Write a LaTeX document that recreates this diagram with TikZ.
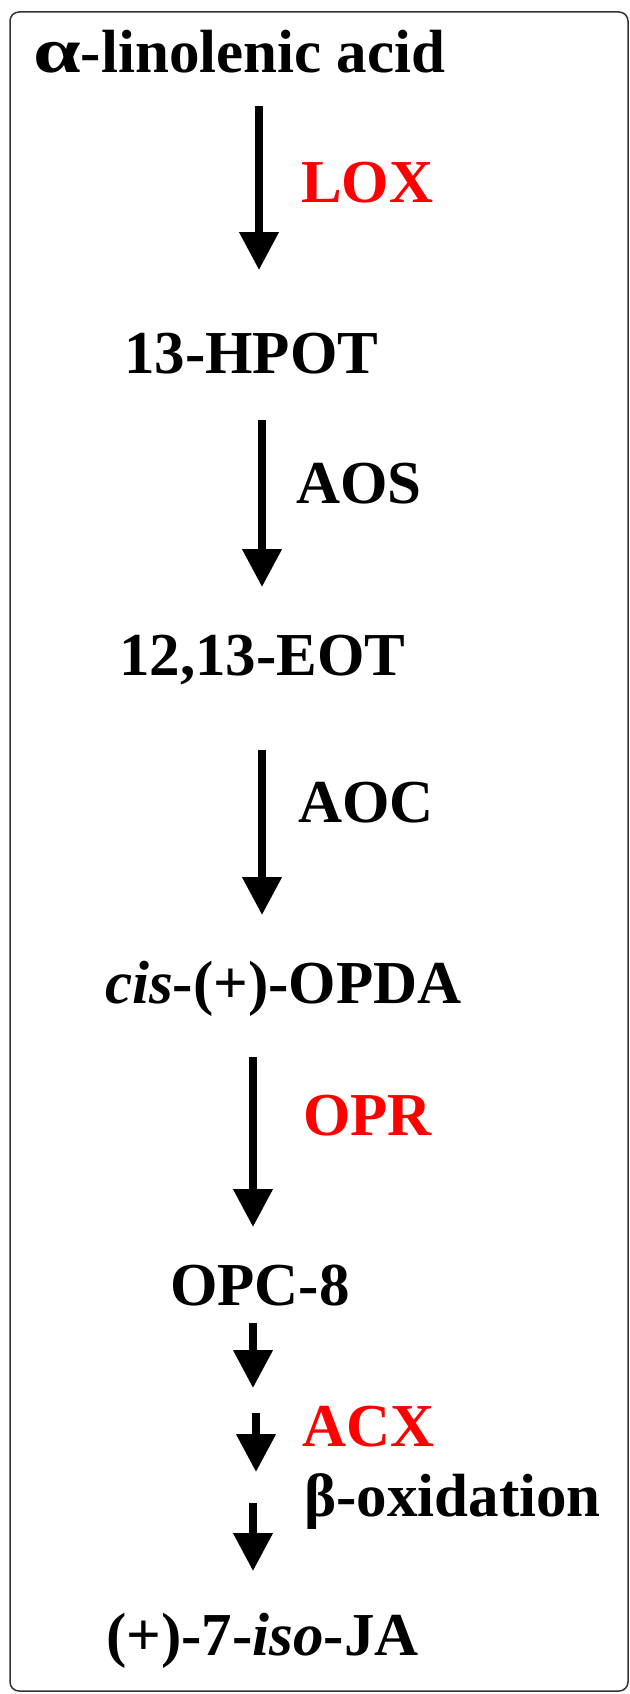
\documentclass[tikz,border=0pt]{standalone}
\usepackage{fontspec}
\setmainfont{Liberation Serif}
\usetikzlibrary{arrows.meta}
\newcommand{\widealpha}{\scalebox{1.4}[1.05]{α}}
\begin{document}
\begin{tikzpicture}[x=1pt,y=-1pt,
  chem/.style={anchor=base west, inner sep=0pt, font=\fontsize{61}{70}\selectfont\bfseries},
  enzyme/.style={chem, text=red},
  flow/.style={line width=7.5pt, -{Triangle[width=38pt,length=38pt]}},
  frame/.style={line width=1.5pt, draw=black!80, rounded corners=9pt},
]
\useasboundingbox (0,0) rectangle (629,1694);
\draw[frame] (10,12) rectangle (628,1691);

% metabolites
\node[chem] (ala)  at (33,72)    {\widealpha-linolenic acid};
\node[chem] (hpot) at (124,373)  {13-HPOT};
\node[chem] (eot)  at (119,675)  {12,13-EOT};
\node[chem] (opda) at (105,1003) {\textit{cis}-(+)-OPDA};
\node[chem] (opc)  at (170,1305) {OPC-8};
\node[chem] (ja)   at (106,1655) {(+)-7-\textit{iso}-JA};

% enzymes and steps
\node[enzyme] (lox) at (301,202)  {LOX};
\node[chem]   (aos) at (296,503)  {AOS};
\node[chem]   (aoc) at (298,822)  {AOC};
\node[enzyme] (opr) at (303,1135) {OPR};
\node[enzyme] (acx) at (302,1446) {ACX};
\node[chem]   (box) at (304,1516) {β-oxidation};

% arrow end points
\coordinate (a1s) at (259,106);  \coordinate (a1e) at (259,270);
\coordinate (a2s) at (262,420);  \coordinate (a2e) at (262,587);
\coordinate (a3s) at (262,750);  \coordinate (a3e) at (262,915);
\coordinate (a4s) at (253,1057); \coordinate (a4e) at (253,1227);
\coordinate (a5s) at (253,1323); \coordinate (a5e) at (253,1388);
\coordinate (a6s) at (256,1413); \coordinate (a6e) at (256,1472);
\coordinate (a7s) at (253,1503); \coordinate (a7e) at (253,1571);

\draw[flow] (a1s) -- (a1e);
\draw[flow] (a2s) -- (a2e);
\draw[flow] (a3s) -- (a3e);
\draw[flow] (a4s) -- (a4e);
\draw[flow] (a5s) -- (a5e);
\draw[flow] (a6s) -- (a6e);
\draw[flow] (a7s) -- (a7e);
\end{tikzpicture}
\end{document}
